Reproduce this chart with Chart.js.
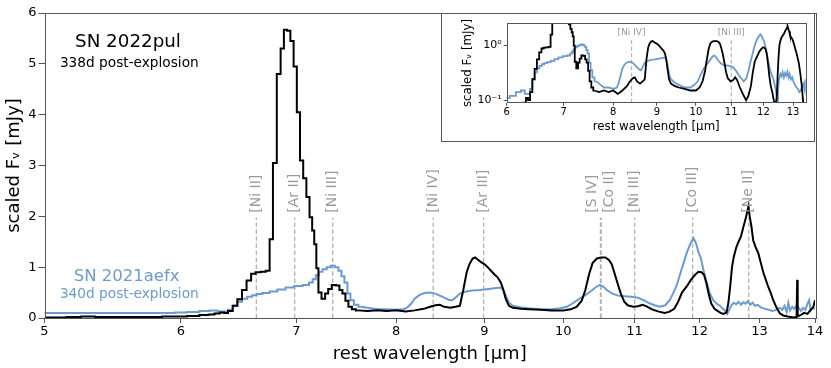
<!DOCTYPE html>
<html>
<head>
<meta charset="utf-8">
<script src="https://cdn.jsdelivr.net/npm/chart.js@4.4.1/dist/chart.umd.min.js"></script>
<style>
  body { margin: 0; background: #fff; }
  #wrap { position: relative; width: 831px; height: 368px; }
  canvas { display: block; }
  #inset { position: absolute; left: 441px; top: 13px; width: 374px; height: 129px; background: #fff; }
</style>
</head>
<body>
<div id="wrap">
  <canvas id="mainChart" width="831" height="368"></canvas>
  <div id="inset"><canvas id="insetChart" width="374" height="129"></canvas></div>
</div>
<script>
// -------------------------------------
// Spectra (rest wavelength in um, scaled F_nu in mJy)
// -------------------------------------
const wavePul = [5.00, 5.10, 5.20, 5.30, 5.40, 5.50, 5.60, 5.70, 5.80, 5.90, 6.00, 6.10, 6.20, 6.25, 6.30, 6.34,
  6.37, 6.41, 6.45, 6.49, 6.53, 6.57, 6.61, 6.65, 6.70, 6.74, 6.77, 6.80, 6.84, 6.87, 6.90, 6.93, 6.96, 6.99,
  7.02, 7.05, 7.08, 7.11, 7.14, 7.16, 7.18, 7.20, 7.22, 7.26, 7.29, 7.32, 7.36, 7.40, 7.43, 7.46, 7.49, 7.52,
  7.56, 7.60, 7.70, 7.80, 7.90, 8.00, 8.10, 8.20, 8.30, 8.37, 8.43, 8.48, 8.53, 8.60, 8.66, 8.71, 8.75, 8.79,
  8.82, 8.86, 8.89, 8.92, 8.96, 9.00, 9.04, 9.08, 9.12, 9.16, 9.20, 9.23, 9.26, 9.30, 9.35, 9.45, 9.55, 9.70,
  9.85, 10.00, 10.10, 10.18, 10.25, 10.30, 10.35, 10.40, 10.46, 10.52, 10.58, 10.63, 10.67, 10.71, 10.75,
  10.80, 10.85, 10.90, 10.98, 11.05, 11.12, 11.18, 11.26, 11.35, 11.45, 11.52, 11.60, 11.66, 11.72, 11.80,
  11.86, 11.92, 11.98, 12.03, 12.07, 12.11, 12.15, 12.19, 12.24, 12.29, 12.34, 12.39, 12.44, 12.47, 12.50,
  12.53, 12.56, 12.60, 12.64, 12.68, 12.72, 12.76, 12.79, 12.81, 12.83, 12.86, 12.89, 12.93, 12.98, 13.03,
  13.07, 13.11, 13.15, 13.20, 13.24, 13.30, 13.36, 13.42, 13.50, 13.60, 13.66, 13.67, 13.68, 13.74, 13.80,
  13.86, 13.92, 13.97, 14.00];
const fluxPul = [0.01, 0.01, 0.02, 0.03, 0.02, 0.02, 0.02, 0.02, 0.02, 0.03, 0.03, 0.04, 0.06, 0.07, 0.09, 0.11,
  0.10, 0.14, 0.24, 0.37, 0.55, 0.74, 0.87, 0.90, 0.91, 0.93, 1.55, 3.05, 4.80, 5.30, 5.67, 5.65, 5.45, 4.95,
  4.05, 3.10, 2.75, 2.38, 1.98, 1.72, 1.45, 0.98, 0.50, 0.38, 0.48, 0.57, 0.65, 0.64, 0.55, 0.48, 0.34, 0.22,
  0.17, 0.15, 0.14, 0.15, 0.14, 0.15, 0.13, 0.15, 0.18, 0.22, 0.25, 0.26, 0.22, 0.20, 0.22, 0.24, 0.55, 0.90,
  1.05, 1.17, 1.19, 1.15, 1.10, 1.06, 1.00, 0.93, 0.86, 0.80, 0.70, 0.56, 0.38, 0.24, 0.20, 0.18, 0.17, 0.16,
  0.15, 0.15, 0.17, 0.22, 0.34, 0.55, 0.85, 1.08, 1.17, 1.19, 1.19, 1.14, 1.06, 0.88, 0.70,
  0.48, 0.32, 0.25, 0.22, 0.23, 0.26, 0.23, 0.17, 0.13, 0.10, 0.12, 0.18, 0.32, 0.50, 0.63,
  0.75, 0.84, 0.91, 0.90, 0.85, 0.68, 0.45, 0.28, 0.18, 0.14, 0.10, 0.08, 0.11, 0.30, 0.62,
  1.00, 1.20, 1.38, 1.50, 1.60, 1.78, 1.95, 2.10, 2.20, 2.00, 1.80, 1.53, 1.40, 1.27, 1.05,
  0.88, 0.75, 0.62, 0.48, 0.35, 0.20, 0.09, 0.05, 0.03, 0.01, 0.02, 0.75, 0.03, 0.06, 0.10,
  0.08, 0.16, 0.22, 0.35];

const waveAefx = [5.00, 5.20, 5.40, 5.60, 5.80, 5.90, 6.00, 6.10, 6.20, 6.27, 6.33, 6.37, 6.41, 6.45, 6.49, 6.53,
  6.58, 6.62, 6.66, 6.72, 6.79, 6.86, 6.94, 7.02, 7.10, 7.14, 7.17, 7.20, 7.23, 7.27, 7.31, 7.35, 7.39, 7.42,
  7.45, 7.48, 7.51, 7.54, 7.58, 7.63, 7.70, 7.80, 7.90, 8.00, 8.08, 8.12, 8.16, 8.20, 8.25, 8.31, 8.37, 8.43,
  8.48, 8.53, 8.58, 8.62, 8.66, 8.71, 8.78, 8.86, 8.95, 9.05, 9.15, 9.20, 9.23, 9.26, 9.30, 9.35, 9.44, 9.55,
  9.70, 9.85, 9.96, 10.05, 10.14, 10.22, 10.30, 10.38, 10.44, 10.50, 10.55, 10.60, 10.68, 10.76, 10.85, 10.95,
  11.05, 11.15, 11.22, 11.30, 11.38, 11.46, 11.53, 11.58, 11.64, 11.70, 11.75, 11.80, 11.85, 11.90, 11.94,
  11.98, 12.02, 12.06, 12.11, 12.16, 12.22, 12.28, 12.33, 12.38, 12.42, 12.45, 12.48, 12.52, 12.56, 12.60,
  12.64, 12.68, 12.72, 12.76, 12.80, 12.84, 12.88, 12.92, 12.97, 13.02, 13.07, 13.12, 13.17, 13.22, 13.27,
  13.32, 13.36, 13.40, 13.44, 13.48, 13.51, 13.54, 13.58, 13.62, 13.66, 13.70, 13.74, 13.78, 13.82, 13.86,
  13.89, 13.92, 13.96, 14.00];
const fluxAefx = [0.10, 0.10, 0.10, 0.10, 0.10, 0.10, 0.11, 0.12, 0.14, 0.15, 0.13, 0.13, 0.16, 0.24, 0.32, 0.38,
  0.42, 0.45, 0.47, 0.49, 0.52, 0.56, 0.60, 0.63, 0.65, 0.70, 0.76, 0.84, 0.91, 0.96, 1.00, 1.03, 1.00, 0.93,
  0.82, 0.70, 0.48, 0.35, 0.26, 0.22, 0.20, 0.17, 0.17, 0.16, 0.17, 0.21, 0.28, 0.38, 0.45, 0.49, 0.50, 0.48,
  0.44, 0.40, 0.36, 0.35, 0.40, 0.48, 0.52, 0.54, 0.55, 0.57, 0.59, 0.60, 0.55, 0.45, 0.30, 0.24, 0.21, 0.19,
  0.17, 0.17, 0.19, 0.22, 0.30, 0.38, 0.45, 0.53, 0.60, 0.65, 0.62, 0.55, 0.48, 0.44, 0.43, 0.42,
  0.40, 0.34, 0.29, 0.25, 0.22, 0.25, 0.35, 0.48, 0.65, 0.90, 1.10, 1.30, 1.45, 1.57, 1.48,
  1.30, 1.18, 0.95, 0.72, 0.50, 0.35, 0.28, 0.24, 0.18, 0.14, 0.08, 0.15, 0.25, 0.30, 0.27,
  0.32, 0.26, 0.31, 0.28, 0.33, 0.26, 0.30, 0.24, 0.26, 0.21, 0.19, 0.17, 0.16, 0.14, 0.15,
  0.18, 0.20, 0.16, 0.24, 0.12, 0.30, 0.15, 0.22, 0.18, 0.25, 0.20, 0.14, 0.20, 0.16, 0.28,
  0.35, 0.15, 0.20, 0.18];

// below this wavelength the spectra are coarse and drawn as steps
const stepLimit = 7.6;

// line identifications
const lineWaves = [6.636, 6.985, 7.349, 8.405, 8.991, 10.51, 10.52, 11.002, 11.888, 12.814];
const lineNames = ["[Ni II]", "[Ar II]", "[Ni III]", "[Ni IV]", "[Ar III]", "[S IV]", "[Co II]", "[Ni III]", "[Co III]", "[Ne II]"];
const insetLineWaves = [8.405, 11.002];
const insetLineNames = ["[Ni IV]", "[Ni III]"];

// axes
const xTicks = [5, 6, 7, 8, 9, 10, 11, 12, 13, 14];
const yTicks = [0, 1, 2, 3, 4, 5, 6];
const insetXTicks = [6, 7, 8, 9, 10, 11, 12, 13];
const insetYTicks = [0.1, 1];
const insetYLabels = ["10\u207B\u00B9", "10\u2070"];

const BLUE = "#6a9bd1";
const GREY_TEXT = "#9a9a9a";
const GREY_LINE = "#b4b4b4";
const FRAME = "#555";

Chart.defaults.font.family = "'DejaVu Sans', sans-serif";
Chart.defaults.color = "#000";

function toXY(w, f) {
  return w.map((v, i) => ({ x: v, y: f[i] }));
}

// stepped part + smooth part of one spectrum, sharing the boundary point
function spectrumSets(w, f, color, width, order) {
  const pts = toXY(w, f);
  const cut = pts.findIndex((p) => p.x >= stepLimit);
  const base = { borderColor: color, borderWidth: width, pointRadius: 0, order: order };
  return [
    Object.assign({ data: pts.slice(0, cut + 1), stepped: "middle" }, base),
    Object.assign({ data: pts.slice(cut) }, base)
  ];
}

function spectra(width) {
  return [
    ...spectrumSets(wavePul, fluxPul, "#000", width, 0),
    ...spectrumSets(waveAefx, fluxAefx, BLUE, width, 1)
  ];
}

// -----------------------------------------------------
// MAIN PANEL
// -----------------------------------------------------
const mainDecor = {
  id: "mainDecor",
  beforeDatasetsDraw(chart) {
    const { ctx, scales: { x, y } } = chart;
    ctx.save();
    ctx.strokeStyle = GREY_LINE;
    ctx.lineWidth = 1.3;
    ctx.setLineDash([4.5, 2.5]);
    lineWaves.forEach((w) => {
      const px = x.getPixelForValue(w);
      ctx.beginPath();
      ctx.moveTo(px, y.getPixelForValue(0));
      ctx.lineTo(px, y.getPixelForValue(1.97));
      ctx.stroke();
    });
    ctx.restore();
  },
  afterDatasetsDraw(chart) {
    const { ctx, chartArea: a, scales: { x, y } } = chart;
    ctx.save();

    // rotated line labels
    ctx.fillStyle = GREY_TEXT;
    ctx.font = "14px 'DejaVu Sans'";
    ctx.textAlign = "left";
    ctx.textBaseline = "middle";
    lineWaves.forEach((w, i) => {
      let px = x.getPixelForValue(w);
      if (i > 0 && w - lineWaves[i - 1] < 0.05) px += 8;
      if (i < lineWaves.length - 1 && lineWaves[i + 1] - w < 0.05) px -= 8;
      ctx.save();
      ctx.translate(px, y.getPixelForValue(2.07));
      ctx.rotate(-Math.PI / 2);
      ctx.fillText(lineNames[i], 0, 0);
      ctx.restore();
    });

    // object names
    ctx.textAlign = "center";
    ctx.textBaseline = "alphabetic";
    ctx.fillStyle = "#000";
    ctx.font = "18.3px 'DejaVu Sans'";
    ctx.fillText("SN 2022pul", x.getPixelForValue(5.59), y.getPixelForValue(5.34));
    ctx.font = "13.7px 'DejaVu Sans'";
    ctx.fillText("338d post-explosion", x.getPixelForValue(5.60), y.getPixelForValue(4.94));
    ctx.fillStyle = BLUE;
    ctx.font = "16.5px 'DejaVu Sans'";
    ctx.fillText("SN 2021aefx", x.getPixelForValue(5.58), y.getPixelForValue(0.73));
    ctx.font = "13.7px 'DejaVu Sans'";
    ctx.fillText("340d post-explosion", x.getPixelForValue(5.60), y.getPixelForValue(0.39));

    // frame
    ctx.strokeStyle = FRAME;
    ctx.lineWidth = 1;
    ctx.strokeRect(Math.round(a.left) + 0.5, Math.round(a.top) + 0.5,
      Math.round(a.right - a.left), Math.round(a.bottom - a.top));
    ctx.restore();
  }
};

new Chart(document.getElementById("mainChart"), {
  type: "line",
  data: { datasets: spectra(2) },
  options: {
    responsive: false,
    animation: false,
    devicePixelRatio: 1,
    layout: { padding: { top: 13, right: 16, left: 0, bottom: 0 } },
    plugins: { legend: { display: false }, tooltip: { enabled: false } },
    scales: {
      x: {
        type: "logarithmic",
        min: 5,
        max: 14,
        afterBuildTicks: (s) => { s.ticks = xTicks.map((v) => ({ value: v })); },
        afterFit: (s) => { s.height = 50; },
        border: { display: false },
        grid: { drawOnChartArea: false, tickLength: 5, color: FRAME },
        ticks: { autoSkip: false, maxRotation: 0, padding: 1, font: { size: 13 }, callback: (v) => String(v) },
        title: { display: true, text: "rest wavelength [\u03BCm]", font: { size: 18 }, padding: { top: 0, bottom: 3 } }
      },
      y: {
        min: 0,
        max: 6,
        afterBuildTicks: (s) => { s.ticks = yTicks.map((v) => ({ value: v })); },
        afterFit: (s) => { s.width = 44.5; },
        border: { display: false },
        grid: { drawOnChartArea: false, tickLength: 6, color: FRAME },
        ticks: { padding: 2, font: { size: 13 } },
        title: { display: true, text: "scaled F\u1D65 [mJy]", font: { size: 18 }, padding: { top: 4, bottom: 0 } }
      }
    }
  },
  plugins: [mainDecor]
});

// -----------------------------------------------------
// INSET (log flux)
// -----------------------------------------------------
const insetDecor = {
  id: "insetDecor",
  beforeDatasetsDraw(chart) {
    const { ctx, chartArea: a, scales: { x, y } } = chart;
    ctx.save();
    ctx.strokeStyle = GREY_LINE;
    ctx.lineWidth = 1.2;
    ctx.setLineDash([4, 2.5]);
    ctx.fillStyle = GREY_TEXT;
    ctx.font = "9px 'DejaVu Sans'";
    ctx.textAlign = "center";
    ctx.textBaseline = "alphabetic";
    insetLineWaves.forEach((w, i) => {
      const px = x.getPixelForValue(w);
      ctx.beginPath();
      ctx.moveTo(px, a.bottom);
      ctx.lineTo(px, a.top + 17);
      ctx.stroke();
      ctx.fillText(insetLineNames[i], px, a.top + 12);
    });
    ctx.restore();
  },
  afterDraw(chart) {
    const { ctx, chartArea: a } = chart;
    ctx.save();
    ctx.strokeStyle = FRAME;
    ctx.lineWidth = 1;
    ctx.strokeRect(Math.round(a.left) + 0.5, Math.round(a.top) + 0.5,
      Math.round(a.right - a.left), Math.round(a.bottom - a.top));
    ctx.strokeRect(0.5, 0.5, chart.width - 1, chart.height - 1);
    ctx.restore();
  }
};

new Chart(document.getElementById("insetChart"), {
  type: "line",
  data: { datasets: spectra(1.8) },
  options: {
    responsive: false,
    animation: false,
    devicePixelRatio: 1,
    layout: { padding: { top: 10.3, right: 9.3, left: 0, bottom: 0 } },
    plugins: { legend: { display: false }, tooltip: { enabled: false } },
    scales: {
      x: {
        type: "logarithmic",
        min: 6,
        max: 13.45,
        afterBuildTicks: (s) => { s.ticks = insetXTicks.map((v) => ({ value: v })); },
        afterFit: (s) => { s.height = 39.3; },
        border: { display: false },
        grid: { drawOnChartArea: false, tickLength: 3, color: FRAME },
        ticks: { autoSkip: false, maxRotation: 0, padding: 1, font: { size: 10 }, callback: (v) => String(v) },
        title: { display: true, text: "rest wavelength [\u03BCm]", font: { size: 11.8 }, padding: { top: 0, bottom: 8 } }
      },
      y: {
        type: "logarithmic",
        min: 0.09,
        max: 2.5,
        afterBuildTicks: (s) => { s.ticks = insetYTicks.map((v) => ({ value: v })); },
        afterFit: (s) => { s.width = 65.7; },
        border: { display: false },
        grid: { drawOnChartArea: false, tickLength: 3, color: FRAME },
        ticks: { padding: 2, font: { size: 11 }, callback: (v) => insetYLabels[insetYTicks.indexOf(v)] },
        title: { display: true, text: "scaled F\u1D65 [mJy]", font: { size: 11.8 }, padding: { top: 20, bottom: 0 } }
      }
    }
  },
  plugins: [insetDecor]
});
</script>
</body>
</html>
